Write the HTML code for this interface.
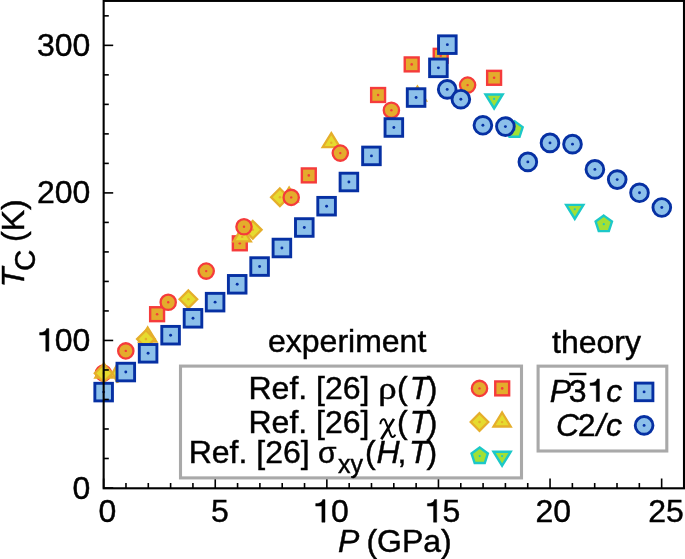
<!DOCTYPE html>
<html><head><meta charset="utf-8"><style>
html,body{margin:0;padding:0;background:#fff;overflow:hidden;}
svg{display:block;} text{-webkit-font-smoothing:antialiased;}
</style></head><body>
<svg width="685" height="559" viewBox="0 0 685 559">
<rect width="685" height="559" fill="#fff"/>
<g transform="translate(0,0.3)">
<circle cx="103.4" cy="372.8" r="7.65" fill="#E4AC2C" stroke="#F53B3B" stroke-width="2.3"/><circle cx="103.4" cy="372.8" r="1.2" fill="#F53B3B"/>
<polygon points="104.00,363.20 112.60,377.20 95.40,377.20" fill="#E6DB2F" stroke="#E5AE2B" stroke-width="2.3" stroke-linejoin="miter"/><circle cx="104.0" cy="372.8" r="1.2" fill="#E5AE2B"/>
<polygon points="103.60,364.10 112.40,372.90 103.60,381.70 94.80,372.90" fill="#E6DB2F" stroke="#E5AE2B" stroke-width="2.3" stroke-linejoin="miter"/><circle cx="103.6" cy="372.9" r="1.3" fill="#E5AE2B"/>
<polygon points="112.4,373 117.6,363.6 117.6,382.4" fill="#E6DB2F" stroke="#E5AE2B" stroke-width="2.3" stroke-linejoin="bevel"/>
<rect x="150.15" y="306.95" width="13.90" height="13.90" fill="#E4AC2C" stroke="#F53B3B" stroke-width="2.4"/><circle cx="157.1" cy="313.9" r="1.3" fill="#F53B3B"/>
<rect x="232.85" y="236.05" width="13.90" height="13.90" fill="#E4AC2C" stroke="#F53B3B" stroke-width="2.4"/><circle cx="239.8" cy="243.0" r="1.3" fill="#F53B3B"/>
<rect x="301.85" y="168.15" width="13.90" height="13.90" fill="#E4AC2C" stroke="#F53B3B" stroke-width="2.4"/><circle cx="308.8" cy="175.1" r="1.3" fill="#F53B3B"/>
<rect x="371.15" y="87.75" width="13.90" height="13.90" fill="#E4AC2C" stroke="#F53B3B" stroke-width="2.4"/><circle cx="378.1" cy="94.7" r="1.3" fill="#F53B3B"/>
<rect x="404.75" y="57.15" width="13.90" height="13.90" fill="#E4AC2C" stroke="#F53B3B" stroke-width="2.4"/><circle cx="411.7" cy="64.1" r="1.3" fill="#F53B3B"/>
<rect x="433.75" y="48.55" width="13.90" height="13.90" fill="#E4AC2C" stroke="#F53B3B" stroke-width="2.4"/><circle cx="440.7" cy="55.5" r="1.3" fill="#F53B3B"/>
<rect x="487.15" y="70.55" width="13.90" height="13.90" fill="#E4AC2C" stroke="#F53B3B" stroke-width="2.4"/><circle cx="494.1" cy="77.5" r="1.3" fill="#F53B3B"/>
<polygon points="147.70,327.20 156.30,341.20 139.10,341.20" fill="#E6DB2F" stroke="#E5AE2B" stroke-width="2.3" stroke-linejoin="miter"/><circle cx="147.7" cy="336.8" r="1.2" fill="#E5AE2B"/>
<polygon points="242.20,227.00 250.80,241.00 233.60,241.00" fill="#E6DB2F" stroke="#E5AE2B" stroke-width="2.3" stroke-linejoin="miter"/><circle cx="242.2" cy="236.6" r="1.2" fill="#E5AE2B"/>
<polygon points="289.10,187.40 297.70,201.40 280.50,201.40" fill="#E6DB2F" stroke="#E5AE2B" stroke-width="2.3" stroke-linejoin="miter"/><circle cx="289.1" cy="197.0" r="1.2" fill="#E5AE2B"/>
<polygon points="331.30,132.80 339.90,146.80 322.70,146.80" fill="#E6DB2F" stroke="#E5AE2B" stroke-width="2.3" stroke-linejoin="miter"/><circle cx="331.3" cy="142.4" r="1.2" fill="#E5AE2B"/>
<polygon points="417.40,86.40 426.00,100.40 408.80,100.40" fill="#E6DB2F" stroke="#E5AE2B" stroke-width="2.3" stroke-linejoin="miter"/><circle cx="417.4" cy="96.0" r="1.2" fill="#E5AE2B"/>
<polygon points="145.90,330.00 154.70,338.80 145.90,347.60 137.10,338.80" fill="#E6DB2F" stroke="#E5AE2B" stroke-width="2.3" stroke-linejoin="miter"/><circle cx="145.9" cy="338.8" r="1.3" fill="#E5AE2B"/>
<polygon points="188.40,290.20 197.20,299.00 188.40,307.80 179.60,299.00" fill="#E6DB2F" stroke="#E5AE2B" stroke-width="2.3" stroke-linejoin="miter"/><circle cx="188.4" cy="299.0" r="1.3" fill="#E5AE2B"/>
<polygon points="252.80,220.70 261.60,229.50 252.80,238.30 244.00,229.50" fill="#E6DB2F" stroke="#E5AE2B" stroke-width="2.3" stroke-linejoin="miter"/><circle cx="252.8" cy="229.5" r="1.3" fill="#E5AE2B"/>
<polygon points="279.90,188.20 288.70,197.00 279.90,205.80 271.10,197.00" fill="#E6DB2F" stroke="#E5AE2B" stroke-width="2.3" stroke-linejoin="miter"/><circle cx="279.9" cy="197.0" r="1.3" fill="#E5AE2B"/>
<circle cx="125.8" cy="350.6" r="7.65" fill="#E4AC2C" stroke="#F53B3B" stroke-width="2.3"/><circle cx="125.8" cy="350.6" r="1.2" fill="#F53B3B"/>
<circle cx="168.2" cy="302.0" r="7.65" fill="#E4AC2C" stroke="#F53B3B" stroke-width="2.3"/><circle cx="168.2" cy="302.0" r="1.2" fill="#F53B3B"/>
<circle cx="206.2" cy="270.8" r="7.65" fill="#E4AC2C" stroke="#F53B3B" stroke-width="2.3"/><circle cx="206.2" cy="270.8" r="1.2" fill="#F53B3B"/>
<circle cx="244.0" cy="226.5" r="7.65" fill="#E4AC2C" stroke="#F53B3B" stroke-width="2.3"/><circle cx="244.0" cy="226.5" r="1.2" fill="#F53B3B"/>
<circle cx="291.2" cy="197.1" r="7.65" fill="#E4AC2C" stroke="#F53B3B" stroke-width="2.3"/><circle cx="291.2" cy="197.1" r="1.2" fill="#F53B3B"/>
<circle cx="340.3" cy="152.8" r="7.65" fill="#E4AC2C" stroke="#F53B3B" stroke-width="2.3"/><circle cx="340.3" cy="152.8" r="1.2" fill="#F53B3B"/>
<circle cx="391.4" cy="109.9" r="7.65" fill="#E4AC2C" stroke="#F53B3B" stroke-width="2.3"/><circle cx="391.4" cy="109.9" r="1.2" fill="#F53B3B"/>
<circle cx="467.6" cy="84.8" r="7.65" fill="#E4AC2C" stroke="#F53B3B" stroke-width="2.3"/><circle cx="467.6" cy="84.8" r="1.2" fill="#F53B3B"/>
<polygon points="514.50,120.90 522.68,126.84 519.55,136.46 509.45,136.46 506.32,126.84" fill="#A2E035" stroke="#1CC8C8" stroke-width="2.4" stroke-linejoin="miter"/><circle cx="514.5" cy="129.5" r="1.1" fill="#1CC8C8"/>
<polygon points="603.80,215.30 611.98,221.24 608.85,230.86 598.75,230.86 595.62,221.24" fill="#A2E035" stroke="#1CC8C8" stroke-width="2.4" stroke-linejoin="miter"/><circle cx="603.8" cy="223.9" r="1.1" fill="#1CC8C8"/>
<polygon points="494.10,108.20 502.70,94.20 485.50,94.20" fill="#A2E035" stroke="#1CC8C8" stroke-width="2.4" stroke-linejoin="miter"/><circle cx="494.1" cy="98.6" r="1.1" fill="#1CC8C8"/>
<polygon points="574.80,218.60 583.40,204.60 566.20,204.60" fill="#A2E035" stroke="#1CC8C8" stroke-width="2.4" stroke-linejoin="miter"/><circle cx="574.8" cy="209.0" r="1.1" fill="#1CC8C8"/>
<rect x="94.85" y="383.00" width="17.60" height="17.60" fill="#8CC0EA" stroke="#0630A3" stroke-width="2.9"/><circle cx="103.65" cy="391.8" r="1.45" fill="#0630A3"/>
<rect x="117.00" y="362.95" width="17.60" height="17.60" fill="#8CC0EA" stroke="#0630A3" stroke-width="2.9"/><circle cx="125.8" cy="371.75" r="1.45" fill="#0630A3"/>
<rect x="139.30" y="344.20" width="17.60" height="17.60" fill="#8CC0EA" stroke="#0630A3" stroke-width="2.9"/><circle cx="148.1" cy="353.0" r="1.45" fill="#0630A3"/>
<rect x="161.80" y="326.10" width="17.60" height="17.60" fill="#8CC0EA" stroke="#0630A3" stroke-width="2.9"/><circle cx="170.6" cy="334.9" r="1.45" fill="#0630A3"/>
<rect x="184.20" y="309.20" width="17.60" height="17.60" fill="#8CC0EA" stroke="#0630A3" stroke-width="2.9"/><circle cx="193.0" cy="318.0" r="1.45" fill="#0630A3"/>
<rect x="206.30" y="293.05" width="17.60" height="17.60" fill="#8CC0EA" stroke="#0630A3" stroke-width="2.9"/><circle cx="215.1" cy="301.85" r="1.45" fill="#0630A3"/>
<rect x="228.40" y="275.20" width="17.60" height="17.60" fill="#8CC0EA" stroke="#0630A3" stroke-width="2.9"/><circle cx="237.2" cy="284.0" r="1.45" fill="#0630A3"/>
<rect x="250.80" y="257.45" width="17.60" height="17.60" fill="#8CC0EA" stroke="#0630A3" stroke-width="2.9"/><circle cx="259.6" cy="266.25" r="1.45" fill="#0630A3"/>
<rect x="273.10" y="238.90" width="17.60" height="17.60" fill="#8CC0EA" stroke="#0630A3" stroke-width="2.9"/><circle cx="281.9" cy="247.7" r="1.45" fill="#0630A3"/>
<rect x="295.50" y="218.40" width="17.60" height="17.60" fill="#8CC0EA" stroke="#0630A3" stroke-width="2.9"/><circle cx="304.3" cy="227.2" r="1.45" fill="#0630A3"/>
<rect x="317.80" y="197.10" width="17.60" height="17.60" fill="#8CC0EA" stroke="#0630A3" stroke-width="2.9"/><circle cx="326.6" cy="205.9" r="1.45" fill="#0630A3"/>
<rect x="340.10" y="172.90" width="17.60" height="17.60" fill="#8CC0EA" stroke="#0630A3" stroke-width="2.9"/><circle cx="348.9" cy="181.7" r="1.45" fill="#0630A3"/>
<rect x="362.65" y="146.80" width="17.60" height="17.60" fill="#8CC0EA" stroke="#0630A3" stroke-width="2.9"/><circle cx="371.45" cy="155.6" r="1.45" fill="#0630A3"/>
<rect x="385.05" y="118.40" width="17.60" height="17.60" fill="#8CC0EA" stroke="#0630A3" stroke-width="2.9"/><circle cx="393.85" cy="127.2" r="1.45" fill="#0630A3"/>
<rect x="407.30" y="88.45" width="17.60" height="17.60" fill="#8CC0EA" stroke="#0630A3" stroke-width="2.9"/><circle cx="416.1" cy="97.25" r="1.45" fill="#0630A3"/>
<rect x="429.60" y="58.75" width="17.60" height="17.60" fill="#8CC0EA" stroke="#0630A3" stroke-width="2.9"/><circle cx="438.4" cy="67.55" r="1.45" fill="#0630A3"/>
<rect x="438.55" y="35.55" width="17.60" height="17.60" fill="#8CC0EA" stroke="#0630A3" stroke-width="2.9"/><circle cx="447.35" cy="44.35" r="1.45" fill="#0630A3"/>
<circle cx="447.2" cy="89.1" r="8.85" fill="#8CC0EA" stroke="#0630A3" stroke-width="2.9"/><circle cx="447.2" cy="89.1" r="1.45" fill="#0630A3"/>
<circle cx="460.85" cy="98.9" r="8.85" fill="#8CC0EA" stroke="#0630A3" stroke-width="2.9"/><circle cx="460.85" cy="98.9" r="1.45" fill="#0630A3"/>
<circle cx="482.9" cy="125.0" r="8.85" fill="#8CC0EA" stroke="#0630A3" stroke-width="2.9"/><circle cx="482.9" cy="125.0" r="1.45" fill="#0630A3"/>
<circle cx="505.4" cy="126.3" r="8.85" fill="#8CC0EA" stroke="#0630A3" stroke-width="2.9"/><circle cx="505.4" cy="126.3" r="1.45" fill="#0630A3"/>
<circle cx="527.85" cy="161.6" r="8.85" fill="#8CC0EA" stroke="#0630A3" stroke-width="2.9"/><circle cx="527.85" cy="161.6" r="1.45" fill="#0630A3"/>
<circle cx="550.0" cy="142.6" r="8.85" fill="#8CC0EA" stroke="#0630A3" stroke-width="2.9"/><circle cx="550.0" cy="142.6" r="1.45" fill="#0630A3"/>
<circle cx="572.5" cy="143.85" r="8.85" fill="#8CC0EA" stroke="#0630A3" stroke-width="2.9"/><circle cx="572.5" cy="143.85" r="1.45" fill="#0630A3"/>
<circle cx="594.9" cy="169.1" r="8.85" fill="#8CC0EA" stroke="#0630A3" stroke-width="2.9"/><circle cx="594.9" cy="169.1" r="1.45" fill="#0630A3"/>
<circle cx="617.2" cy="179.3" r="8.85" fill="#8CC0EA" stroke="#0630A3" stroke-width="2.9"/><circle cx="617.2" cy="179.3" r="1.45" fill="#0630A3"/>
<circle cx="639.5" cy="192.5" r="8.85" fill="#8CC0EA" stroke="#0630A3" stroke-width="2.9"/><circle cx="639.5" cy="192.5" r="1.45" fill="#0630A3"/>
<circle cx="661.8" cy="207.2" r="8.85" fill="#8CC0EA" stroke="#0630A3" stroke-width="2.9"/><circle cx="661.8" cy="207.2" r="1.45" fill="#0630A3"/>
</g>
<line x1="103.65" y1="478.50" x2="103.65" y2="488.3" stroke="#000" stroke-width="1.6"/>
<line x1="125.97" y1="483.00" x2="125.97" y2="488.3" stroke="#000" stroke-width="1.6"/>
<line x1="148.29" y1="483.00" x2="148.29" y2="488.3" stroke="#000" stroke-width="1.6"/>
<line x1="170.61" y1="483.00" x2="170.61" y2="488.3" stroke="#000" stroke-width="1.6"/>
<line x1="192.93" y1="483.00" x2="192.93" y2="488.3" stroke="#000" stroke-width="1.6"/>
<line x1="215.25" y1="478.50" x2="215.25" y2="488.3" stroke="#000" stroke-width="1.6"/>
<line x1="237.57" y1="483.00" x2="237.57" y2="488.3" stroke="#000" stroke-width="1.6"/>
<line x1="259.89" y1="483.00" x2="259.89" y2="488.3" stroke="#000" stroke-width="1.6"/>
<line x1="282.21" y1="483.00" x2="282.21" y2="488.3" stroke="#000" stroke-width="1.6"/>
<line x1="304.53" y1="483.00" x2="304.53" y2="488.3" stroke="#000" stroke-width="1.6"/>
<line x1="326.85" y1="478.50" x2="326.85" y2="488.3" stroke="#000" stroke-width="1.6"/>
<line x1="349.17" y1="483.00" x2="349.17" y2="488.3" stroke="#000" stroke-width="1.6"/>
<line x1="371.49" y1="483.00" x2="371.49" y2="488.3" stroke="#000" stroke-width="1.6"/>
<line x1="393.81" y1="483.00" x2="393.81" y2="488.3" stroke="#000" stroke-width="1.6"/>
<line x1="416.13" y1="483.00" x2="416.13" y2="488.3" stroke="#000" stroke-width="1.6"/>
<line x1="438.45" y1="478.50" x2="438.45" y2="488.3" stroke="#000" stroke-width="1.6"/>
<line x1="460.77" y1="483.00" x2="460.77" y2="488.3" stroke="#000" stroke-width="1.6"/>
<line x1="483.09" y1="483.00" x2="483.09" y2="488.3" stroke="#000" stroke-width="1.6"/>
<line x1="505.41" y1="483.00" x2="505.41" y2="488.3" stroke="#000" stroke-width="1.6"/>
<line x1="527.73" y1="483.00" x2="527.73" y2="488.3" stroke="#000" stroke-width="1.6"/>
<line x1="550.05" y1="478.50" x2="550.05" y2="488.3" stroke="#000" stroke-width="1.6"/>
<line x1="572.37" y1="483.00" x2="572.37" y2="488.3" stroke="#000" stroke-width="1.6"/>
<line x1="594.69" y1="483.00" x2="594.69" y2="488.3" stroke="#000" stroke-width="1.6"/>
<line x1="617.01" y1="483.00" x2="617.01" y2="488.3" stroke="#000" stroke-width="1.6"/>
<line x1="639.33" y1="483.00" x2="639.33" y2="488.3" stroke="#000" stroke-width="1.6"/>
<line x1="661.65" y1="478.50" x2="661.65" y2="488.3" stroke="#000" stroke-width="1.6"/>
<line x1="683.97" y1="483.00" x2="683.97" y2="488.3" stroke="#000" stroke-width="1.6"/>
<line x1="103.6" y1="488.00" x2="113.20" y2="488.00" stroke="#000" stroke-width="1.6"/>
<line x1="103.6" y1="458.49" x2="108.80" y2="458.49" stroke="#000" stroke-width="1.6"/>
<line x1="103.6" y1="428.98" x2="108.80" y2="428.98" stroke="#000" stroke-width="1.6"/>
<line x1="103.6" y1="399.47" x2="108.80" y2="399.47" stroke="#000" stroke-width="1.6"/>
<line x1="103.6" y1="369.96" x2="108.80" y2="369.96" stroke="#000" stroke-width="1.6"/>
<line x1="103.6" y1="340.45" x2="113.20" y2="340.45" stroke="#000" stroke-width="1.6"/>
<line x1="103.6" y1="310.94" x2="108.80" y2="310.94" stroke="#000" stroke-width="1.6"/>
<line x1="103.6" y1="281.43" x2="108.80" y2="281.43" stroke="#000" stroke-width="1.6"/>
<line x1="103.6" y1="251.92" x2="108.80" y2="251.92" stroke="#000" stroke-width="1.6"/>
<line x1="103.6" y1="222.41" x2="108.80" y2="222.41" stroke="#000" stroke-width="1.6"/>
<line x1="103.6" y1="192.90" x2="113.20" y2="192.90" stroke="#000" stroke-width="1.6"/>
<line x1="103.6" y1="163.39" x2="108.80" y2="163.39" stroke="#000" stroke-width="1.6"/>
<line x1="103.6" y1="133.88" x2="108.80" y2="133.88" stroke="#000" stroke-width="1.6"/>
<line x1="103.6" y1="104.37" x2="108.80" y2="104.37" stroke="#000" stroke-width="1.6"/>
<line x1="103.6" y1="74.86" x2="108.80" y2="74.86" stroke="#000" stroke-width="1.6"/>
<line x1="103.6" y1="45.35" x2="113.20" y2="45.35" stroke="#000" stroke-width="1.6"/>
<line x1="103.6" y1="15.84" x2="108.80" y2="15.84" stroke="#000" stroke-width="1.6"/>
<rect x="103.65" y="0.9" width="580.35" height="487.4" fill="none" stroke="#000" stroke-width="2.1"/>

<rect x="180.5" y="366.1" width="341" height="111.8" fill="none" stroke="#A9A9A9" stroke-width="3.1"/>
<rect x="538.1" y="366.15" width="128.7" height="84.85" fill="none" stroke="#A9A9A9" stroke-width="3.1"/>

<circle cx="479.5" cy="388.4" r="7.65" fill="#E4AC2C" stroke="#F53B3B" stroke-width="2.3"/><circle cx="479.5" cy="388.4" r="1.2" fill="#F53B3B"/>
<rect x="495.25" y="381.45" width="13.90" height="13.90" fill="#E4AC2C" stroke="#F53B3B" stroke-width="2.4"/><circle cx="502.2" cy="388.4" r="1.3" fill="#F53B3B"/>
<polygon points="479.50,413.20 488.30,422.00 479.50,430.80 470.70,422.00" fill="#E6DB2F" stroke="#E5AE2B" stroke-width="2.3" stroke-linejoin="miter"/><circle cx="479.5" cy="422.0" r="1.3" fill="#E5AE2B"/>
<polygon points="502.10,412.50 510.70,426.50 493.50,426.50" fill="#E6DB2F" stroke="#E5AE2B" stroke-width="2.3" stroke-linejoin="miter"/><circle cx="502.1" cy="422.1" r="1.2" fill="#E5AE2B"/>
<polygon points="479.70,447.50 487.88,453.44 484.75,463.06 474.65,463.06 471.52,453.44" fill="#A2E035" stroke="#1CC8C8" stroke-width="2.4" stroke-linejoin="miter"/><circle cx="479.7" cy="456.1" r="1.1" fill="#1CC8C8"/>
<polygon points="502.10,465.70 510.70,451.70 493.50,451.70" fill="#A2E035" stroke="#1CC8C8" stroke-width="2.4" stroke-linejoin="miter"/><circle cx="502.1" cy="456.1" r="1.1" fill="#1CC8C8"/>
<rect x="635.30" y="383.10" width="17.60" height="17.60" fill="#8CC0EA" stroke="#0630A3" stroke-width="2.9"/><circle cx="644.1" cy="391.9" r="1.45" fill="#0630A3"/>
<circle cx="644.1" cy="425.4" r="8.85" fill="#8CC0EA" stroke="#0630A3" stroke-width="2.9"/><circle cx="644.1" cy="425.4" r="1.45" fill="#0630A3"/>

<g font-family="Liberation Sans, sans-serif" font-size="32" fill="#000" stroke="#000" stroke-width="0.45" opacity="0.999">
<text x="37.00" y="56.00">3</text><text x="54.80" y="56.00">0</text><text x="72.60" y="56.00">0</text>
<text x="37.00" y="203.40">2</text><text x="54.80" y="203.40">0</text><text x="72.60" y="203.40">0</text>
<path d="M8.75 0 L11.9 0 L11.9 -22.6 L9.6 -22.6 C9.1 -20.2 7.4 -18.7 2.6 -18.6 L2.6 -16.1 L8.75 -16.1 Z" transform="translate(37.00,351.20)" fill="#000"/><text x="54.80" y="351.20">0</text><text x="72.60" y="351.20">0</text>
<text x="72.60" y="499.40">0</text>
<text x="98.40" y="522.20">0</text>
<text x="210.90" y="522.20">5</text>
<path d="M8.75 0 L11.9 0 L11.9 -22.6 L9.6 -22.6 C9.1 -20.2 7.4 -18.7 2.6 -18.6 L2.6 -16.1 L8.75 -16.1 Z" transform="translate(313.10,522.20)" fill="#000"/><text x="330.90" y="522.20">0</text>
<path d="M8.75 0 L11.9 0 L11.9 -22.6 L9.6 -22.6 C9.1 -20.2 7.4 -18.7 2.6 -18.6 L2.6 -16.1 L8.75 -16.1 Z" transform="translate(424.80,522.20)" fill="#000"/><text x="442.60" y="522.20">5</text>
<text x="535.40" y="522.20">2</text><text x="553.20" y="522.20">0</text>
<text x="648.30" y="522.20">2</text><text x="666.10" y="522.20">5</text>
 <text x="338" y="552.2"><tspan font-style="italic">P</tspan></text>
 <text x="366.4" y="552.2">(GPa)</text>
 <g transform="translate(24,287.2) rotate(-90)"><text x="0" y="0" font-style="italic">T</text><text x="16.2" y="10.6" font-size="29.5">C</text><text x="45.3" y="0">(K)</text></g>
 <text x="268" y="352">experiment</text>
 <text x="552" y="353">theory</text>
 <text x="248.5" y="398.6">Ref. [26]</text>
 <text transform="translate(378.3,398.6) scale(1.15,1)" font-family="Liberation Serif">ρ</text>
 <text x="397.1" y="398.6">(</text><text x="409.7" y="398.6" font-style="italic">T</text><text x="426.7" y="398.6">)</text>
 <text x="248.5" y="432.6">Ref. [26]</text>
 <path d="M380.3,424.2 C380.5,420.2 383.4,417.6 385.3,420.6 L390.9,435.3 C391.8,437.9 394.1,437.6 395.3,434.6" fill="none" stroke="#000" stroke-width="2.0"/>
 <path d="M393.9,418.9 L381.3,439.3" fill="none" stroke="#000" stroke-width="2.7"/>
 <text x="397.1" y="432.6">(</text><text x="409.7" y="432.6" font-style="italic">T</text><text x="426.7" y="432.6">)</text>
 <text x="188.7" y="463.3">Ref. [26]</text>
 <text x="318.1" y="463.3" font-size="30">σ</text>
 <text x="365.0" y="463.3">(</text><text x="376.5" y="463.3" font-style="italic">H</text><text x="397.4" y="463.3">,</text><text x="409.1" y="463.3" font-style="italic">T</text><text x="426.6" y="463.3">)</text>
 <text x="338.1" y="472.7" font-size="25">xy</text>
 <text x="549.7" y="401.5" font-style="italic">P</text>
 <text x="568.8" y="401.5">3</text>
 <path d="M8.75 0 L11.9 0 L11.9 -22.6 L9.6 -22.6 C9.1 -20.2 7.4 -18.7 2.6 -18.6 L2.6 -16.1 L8.75 -16.1 Z" transform="translate(587.5,401.5)" fill="#000"/>
 <text x="606.2" y="401.5" font-style="italic">c</text>
 <rect x="569.6" y="373" width="16.5" height="2" fill="#000"/>
 <text x="556.1" y="436.3" font-style="italic">C</text>
 <text x="577.8" y="436.3">2</text>
 <text x="596.4" y="436.3" font-style="italic">/</text>
 <text x="606.1" y="436.3" font-style="italic">c</text>
</g>

</svg>
</body></html>
